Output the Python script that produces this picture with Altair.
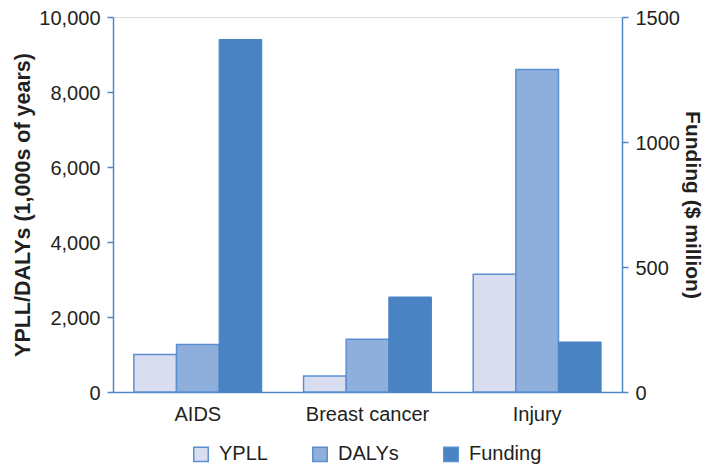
import altair as alt
import pandas as pd

categories = ["AIDS", "Breast cancer", "Injury"]
ypll = [1000, 430, 3140]
dalys = [1270, 1410, 8600]
funding = [1410, 380, 200]
series = ["YPLL", "DALYs", "Funding"]
colors = ["#d8deef", "#8eaedb", "#4a83c4"]

left_ticks = [0, 2000, 4000, 6000, 8000, 10000]
right_ticks = [0, 500, 1000, 1500]

rows_left = []
for c, y, d in zip(categories, ypll, dalys):
    rows_left.append({"cat": c, "series": "YPLL", "value": y})
    rows_left.append({"cat": c, "series": "DALYs", "value": d})
rows_right = [{"cat": c, "series": "Funding", "value": f} for c, f in zip(categories, funding)]

df_left = pd.DataFrame(rows_left)
df_right = pd.DataFrame(rows_right)

FONT = "Liberation Sans"
BLUE = "#4f86c8"
TXT = "#231f20"

x_enc = alt.X("cat:N", sort=categories, title=None,
              scale=alt.Scale(paddingInner=0, paddingOuter=0),
              axis=alt.Axis(labelAngle=0, ticks=False, labelPadding=12, domain=True,
                            domainColor=BLUE, domainWidth=1.5,
                            labelFont=FONT, labelFontSize=20, labelColor=TXT))
xo_enc = alt.XOffset("series:N", sort=series,
                     scale=alt.Scale(domain=series, paddingOuter=0.49, paddingInner=0))
color_enc = alt.Color("series:N", sort=series,
                      scale=alt.Scale(domain=series, range=colors),
                      legend=alt.Legend(title=None, orient="none", direction="horizontal",
                                        legendX=78, legendY=427, columnPadding=41,
                                        symbolType="square", symbolSize=210,
                                        symbolStrokeColor="#5b8fd2", symbolStrokeWidth=1.5,
                                        symbolOpacity=1, labelOffset=8, padding=0,
                                        labelFont=FONT, labelFontSize=20, labelColor=TXT))

bars_left = alt.Chart(df_left).mark_bar(stroke="#5b8fd2", strokeWidth=1.5, opacity=1).encode(
    x=x_enc,
    xOffset=xo_enc,
    y=alt.Y("value:Q", scale=alt.Scale(domain=[0, 10000], nice=False),
            axis=alt.Axis(title="YPLL/DALYs (1,000s of years)", values=left_ticks, format=",.0f",
                          orient="left", grid=False, tickSize=6, tickColor=BLUE, tickWidth=1.5,
                          domainColor=BLUE, domainWidth=1.5, labelPadding=7, labelOffset=1,
                          labelFont=FONT, labelFontSize=20, labelColor=TXT,
                          titleFont=FONT, titleFontSize=21.5, titleFontWeight="bold", titleColor=TXT,
                          titleAngle=270, titleX=-90, titleY=187.5, titleBaseline="middle",
                          titleAlign="center")),
    color=color_enc,
)

bars_right = alt.Chart(df_right).mark_bar(stroke="#4a83c4", strokeWidth=1, opacity=1).encode(
    x=x_enc,
    xOffset=xo_enc,
    y=alt.Y("value:Q", scale=alt.Scale(domain=[0, 1500], nice=False),
            axis=alt.Axis(title="Funding ($ million)", values=right_ticks, format="d",
                          orient="right", grid=False, tickSize=6, tickColor=BLUE, tickWidth=1.5,
                          domainColor=BLUE, domainWidth=1.5, labelPadding=7, labelOffset=1,
                          labelFont=FONT, labelFontSize=20, labelColor=TXT,
                          titleFont=FONT, titleFontSize=21, titleFontWeight="bold", titleColor=TXT,
                          titleAngle=90, titleX=69, titleY=187.5, titleBaseline="middle",
                          titleAlign="center")),
    color=color_enc,
)

chart = alt.layer(bars_left, bars_right).resolve_scale(y="independent").properties(
    width=509, height=375,
    autosize=alt.AutoSizeParams(type="none"),
    padding={"left": 105, "top": 9, "right": 81, "bottom": 73},
).configure_view(stroke=BLUE, strokeWidth=1.5).configure(background="white")

chart.save("out.html", embed_options={"renderer": "svg", "actions": False})
